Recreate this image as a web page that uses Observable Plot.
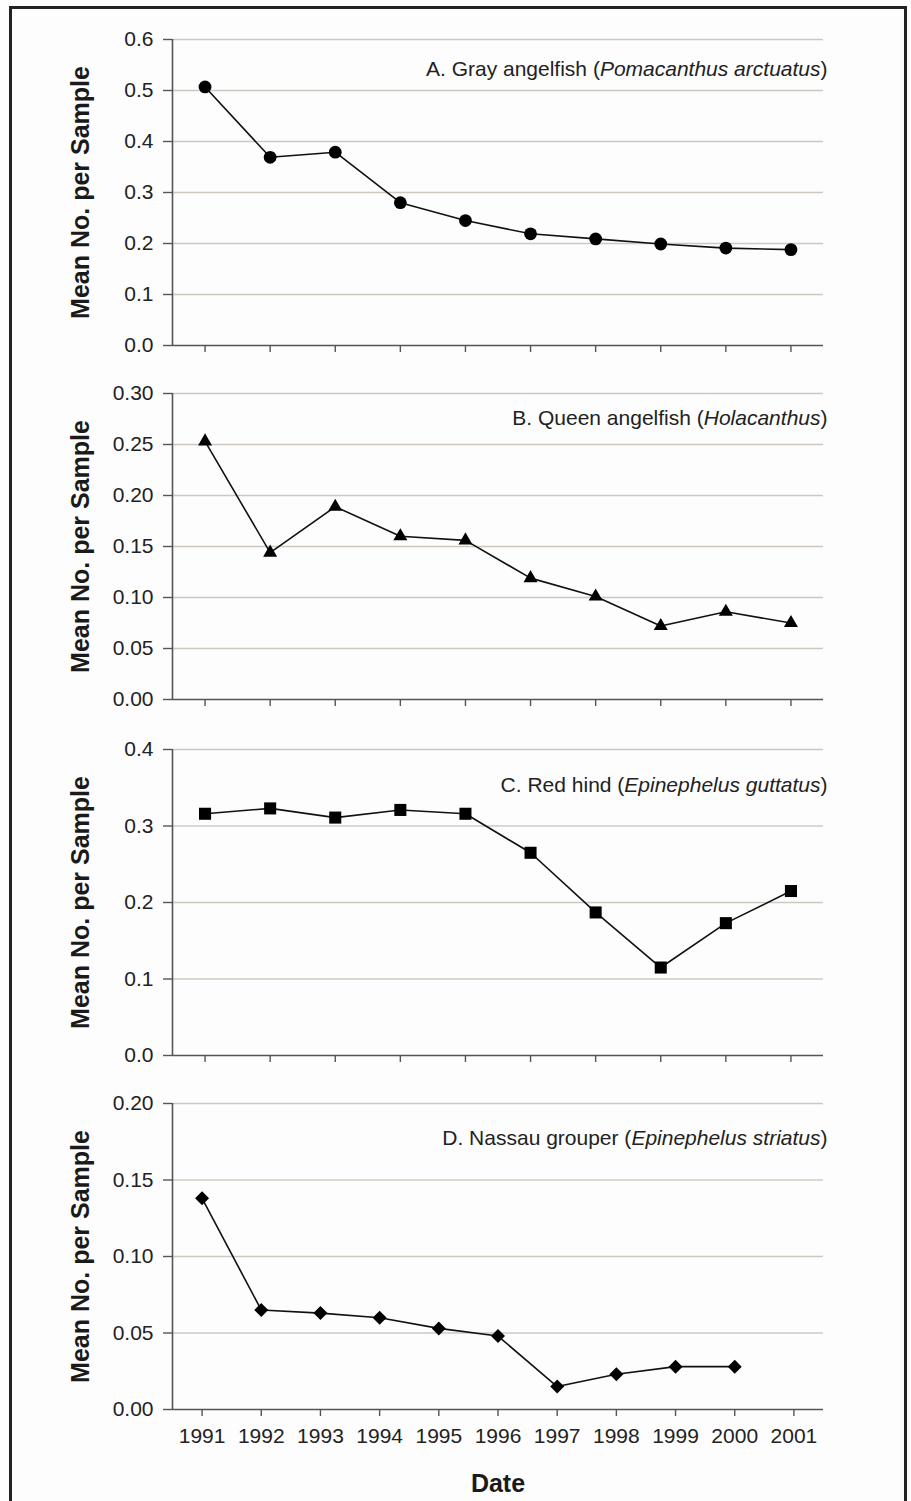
<!DOCTYPE html>
<html><head><meta charset="utf-8">
<script src="https://cdn.jsdelivr.net/npm/d3@7"></script>
<script src="https://cdn.jsdelivr.net/npm/@observablehq/plot@0.6"></script>
<style>
html,body{margin:0;padding:0;background:#fff;}
#wrap{position:relative;width:911px;height:1501px;overflow:hidden;background:#fdfdfd;font-family:"Liberation Sans",Arial,sans-serif;}
#border{position:absolute;left:9px;top:6px;width:898px;height:1600px;border:3px solid #222;box-sizing:border-box;}
.panel{position:absolute;left:0;}
</style></head><body><div id="wrap"><div id="border"></div></div>
<script>
// ---- data ----
const years = [1991, 1992, 1993, 1994, 1995, 1996, 1997, 1998, 1999, 2000, 2001];
const samplePeriods = [1, 2, 3, 4, 5, 6, 7, 8, 9, 10];
const grayAngelfish = [0.507, 0.369, 0.379, 0.280, 0.245, 0.219, 0.209, 0.199, 0.191, 0.188];
const queenAngelfish = [0.253, 0.144, 0.189, 0.160, 0.156, 0.119, 0.101, 0.072, 0.086, 0.075];
const redHind = [0.316, 0.323, 0.311, 0.321, 0.316, 0.265, 0.187, 0.115, 0.173, 0.215];
const nassauYears = [1991, 1992, 1993, 1994, 1995, 1996, 1997, 1998, 1999, 2000];
const nassauGrouper = [0.138, 0.065, 0.063, 0.060, 0.053, 0.048, 0.015, 0.023, 0.028, 0.028];
const panelLetters = ["A", "B", "C", "D"];
const commonNames = ["Gray angelfish", "Queen angelfish", "Red hind", "Nassau grouper"];
const scientificNames = ["Pomacanthus arctuatus", "Holacanthus", "Epinephelus guttatus", "Epinephelus striatus"];
const yTicksA = [0, 0.1, 0.2, 0.3, 0.4, 0.5, 0.6];
const yTicksB = [0, 0.05, 0.10, 0.15, 0.20, 0.25, 0.30];
const yTicksC = [0, 0.1, 0.2, 0.3, 0.4];
const yTicksD = [0, 0.05, 0.10, 0.15, 0.20];
const yAxisLabel = "Mean No. per Sample";
const xAxisLabel = "Date";

// ---- layout / style ----
const FONT = '"Liberation Sans", Arial, sans-serif';
const panels = [
  {xs: samplePeriods, ys: grayAngelfish, ticks: yTicksA, fmt: ".1f", symbol: "circle", r: 6.4, top: 39, titleDy: 30, last: false},
  {xs: samplePeriods, ys: queenAngelfish, ticks: yTicksB, fmt: ".2f", symbol: "triangle", r: 5.2, top: 393.3, titleDy: 25, last: false},
  {xs: samplePeriods, ys: redHind, ticks: yTicksC, fmt: ".1f", symbol: "square", r: 6.8, top: 748.7, titleDy: 36, last: false},
  {xs: nassauYears, ys: nassauGrouper, ticks: yTicksD, fmt: ".2f", symbol: "diamond2", r: 6.3, top: 1102.7, titleDy: 35, last: true, xTicks: years}
];
const wrap = document.getElementById("wrap");

panels.forEach((p, i) => {
  const xTicks = p.xTicks || p.xs;
  const xDomain = [d3.min(xTicks) - 0.5, d3.max(xTicks) + 0.5];
  const yMax = d3.max(p.ticks);
  const data = p.xs.map((x, k) => ({x, y: p.ys[k]}));
  const title = `${panelLetters[i]}. ${commonNames[i]} (${scientificNames[i]})`;
  const marginTop = 12, marginBottom = p.last ? 92 : 22, innerH = 306;
  const chart = Plot.plot({
    width: 911,
    height: marginTop + innerH + marginBottom,
    marginLeft: 172, marginRight: 88, marginTop, marginBottom,
    style: {fontFamily: FONT, fontSize: "21px", color: "#222", background: "transparent", overflow: "visible"},
    x: {type: "linear", domain: xDomain},
    y: {type: "linear", domain: [0, yMax]},
    marks: [
      Plot.ruleY(p.ticks.filter(d => d > 0), {stroke: "#cfc8c1", strokeWidth: 1.3}),
      Plot.ruleY([0], {stroke: "#555", strokeWidth: 1.6}),
      Plot.ruleX([xDomain[0]], {stroke: "#555", strokeWidth: 1.6}),
      Plot.axisY({ticks: p.ticks, tickFormat: d3.format(p.fmt), tickSize: 9, tickPadding: 10, stroke: "#555", strokeWidth: 1.4, label: null, fontSize: 21}),
      Plot.axisX({ticks: xTicks, tickFormat: p.last ? d3.format("d") : () => "", tickSize: 7, tickPadding: 12, stroke: "#555", strokeWidth: 1.4, label: null, fontSize: 21}),
      Plot.line(data, {x: "x", y: "y", stroke: "#111", strokeWidth: 1.6}),
      Plot.dot(data, {x: "x", y: "y", symbol: () => p.symbol, r: p.r, fill: "#000", stroke: "none"}),
      Plot.text([title], {frameAnchor: "top-right", dx: 4, dy: p.titleDy, textAnchor: "end", lineAnchor: "middle", fontSize: 21, fill: "#222"}),
      Plot.text([yAxisLabel], {frameAnchor: "left", rotate: -90, dx: -92, textAnchor: "middle", lineAnchor: "middle", fontSize: 25, fontWeight: "bold", fill: "#1a1a1a"}),
      ...(p.last ? [Plot.text([xAxisLabel], {frameAnchor: "bottom", dy: 74, lineAnchor: "middle", fontSize: 25, fontWeight: "bold", fill: "#1a1a1a"})] : [])
    ]
  });
  // italicise the scientific name inside the panel title
  chart.querySelectorAll("text").forEach(t => {
    if (t.textContent === title) {
      t.textContent = "";
      const parts = [[`${panelLetters[i]}. ${commonNames[i]} (`, "normal"], [scientificNames[i], "italic"], [")", "normal"]];
      parts.forEach(([s, st]) => {
        const ts = document.createElementNS("http://www.w3.org/2000/svg", "tspan");
        ts.setAttribute("font-style", st);
        ts.textContent = s;
        t.appendChild(ts);
      });
    }
  });
  const div = document.createElement("div");
  div.className = "panel";
  div.style.top = (p.top - marginTop) + "px";
  div.appendChild(chart);
  wrap.appendChild(div);
});
</script>
</body></html>
